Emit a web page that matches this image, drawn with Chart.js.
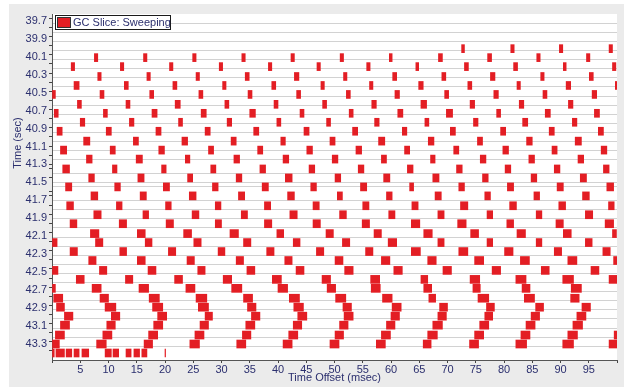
<!DOCTYPE html>
<html>
<head>
<meta charset="utf-8">
<script src="https://cdn.jsdelivr.net/npm/chart.js@4.4.1/dist/chart.umd.min.js"></script>
<style>
  html, body { margin: 0; padding: 0; background: #fff; }
</style>
</head>
<body>
<canvas id="gcChart" width="624" height="388"></canvas>
<script>
// one strip per row, row start time in sec
const rowTimes = [39.70, 39.80, 39.91, 40.01, 40.11, 40.21, 40.32, 40.42, 40.52, 40.63,
  40.73, 40.83, 40.93, 41.04, 41.14, 41.24, 41.35, 41.45, 41.55, 41.65,
  41.76, 41.86, 41.96, 42.07, 42.17, 42.27, 42.37, 42.48, 42.58, 42.68,
  42.79, 42.89, 42.99, 43.09, 43.20, 43.30, 43.40];

// sweeping slices per row: [start, end] offset in msec
const sweepSlices = [
  [],
  [],
  [],
  [[72.5,73.0],[81.2,81.8],[89.8,90.4],[98.6,99.2]],
  [[7.5,8.1],[16.2,16.8],[24.9,25.5],[33.6,34.2],[42.3,42.9],[51.0,51.6],[59.7,60.2],[68.4,69.1],[77.1,77.8],[85.8,86.4],[94.6,95.2]],
  [[3.4,4.0],[12.1,12.7],[20.8,21.4],[29.6,30.2],[38.3,38.9],[46.9,47.5],[55.7,56.3],[64.4,64.9],[73.0,73.7],[81.7,82.4],[90.5,91.0],[99.2,99.8]],
  [[8.1,8.7],[16.8,17.4],[25.5,26.1],[34.2,34.9],[42.9,43.7],[51.6,52.2],[60.3,61.0],[69.0,69.7],[77.6,78.4],[86.5,87.1],[95.1,95.8]],
  [[3.9,4.8],[12.8,13.5],[21.4,22.1],[30.2,30.8],[38.9,39.6],[47.6,48.2],[56.2,56.8],[64.9,65.7],[73.6,74.3],[82.3,82.9],[91.0,91.8],[99.7,100]],
  [[0,0.6],[8.5,9.2],[17.3,18.0],[26.0,26.7],[34.7,35.4],[43.3,44.0],[52.1,52.8],[60.7,61.5],[69.5,70.2],[78.2,79.0],[86.9,87.6],[95.6,96.4]],
  [[4.5,5.2],[13.1,13.8],[21.8,22.7],[30.6,31.3],[39.3,40.0],[47.9,48.6],[56.6,57.4],[65.3,66.3],[74.0,74.8],[82.7,83.5],[91.4,92.2]],
  [[0.4,1.1],[9.1,9.8],[17.7,18.6],[26.4,27.3],[35.0,36.0],[43.9,44.6],[52.6,53.3],[61.2,62.1],[69.8,70.9],[78.7,79.4],[87.3,88.2],[96.0,96.9]],
  [[5.0,5.8],[13.7,14.5],[22.4,23.1],[31.0,31.8],[39.8,40.5],[48.6,49.3],[57.1,57.9],[66.0,66.7],[74.6,75.4],[83.3,84.2],[92.1,92.9]],
  [[0.9,1.8],[9.6,10.5],[18.4,19.3],[27.1,28.0],[35.7,36.6],[44.6,45.5],[53.2,54.1],[62.0,62.8],[70.5,71.4],[79.4,80.3],[88.0,88.9],[96.7,97.6]],
  [[5.6,6.7],[14.4,15.3],[23.0,24.0],[31.7,32.6],[40.5,41.3],[49.2,50.1],[57.8,58.9],[66.6,67.6],[75.3,76.2],[84.0,85.0],[92.6,93.7]],
  [[1.5,2.6],[10.3,11.2],[18.9,19.9],[27.7,28.6],[36.4,37.3],[45.1,46.1],[53.8,54.8],[62.4,63.3],[71.1,72.0],[79.8,80.8],[88.5,89.4],[97.2,98.2]],
  [[6.1,7.1],[14.9,16.0],[23.6,24.4],[32.2,33.2],[40.9,41.9],[49.6,50.6],[58.3,59.2],[67.0,67.8],[75.8,76.8],[84.4,85.4],[93.1,94.1]],
  [[1.9,3.1],[10.7,11.5],[19.4,20.2],[28.1,29.0],[36.8,37.8],[45.5,46.5],[54.2,55.2],[62.9,63.9],[71.6,72.6],[80.2,81.2],[88.9,89.9],[97.6,98.6]],
  [[6.5,7.5],[15.2,16.3],[24.0,24.9],[32.6,33.6],[41.3,42.5],[50.1,51.1],[58.7,59.8],[67.4,68.5],[76.2,77.2],[84.8,85.8],[93.5,94.6]],
  [[2.4,3.5],[11.1,12.1],[19.7,20.8],[28.4,29.4],[37.2,38.3],[45.8,46.8],[54.6,55.7],[63.3,64.0],[72.0,73.0],[80.6,81.7],[89.4,90.5],[98.2,99.4]],
  [[6.9,8.1],[15.6,16.7],[24.3,25.5],[33.0,34.1],[41.7,42.9],[50.5,51.4],[59.2,60.2],[67.8,68.9],[76.6,77.6],[85.3,86.3],[93.9,95.1]],
  [[2.6,3.8],[11.4,12.4],[20.1,21.1],[28.9,29.9],[37.6,38.7],[46.2,47.3],[55.0,56.1],[63.7,64.8],[72.3,73.6],[81.0,82.2],[89.7,90.9],[98.5,99.5]],
  [[7.4,8.7],[16.1,17.1],[24.8,26.0],[33.5,34.6],[42.1,43.4],[50.9,52.1],[59.6,60.7],[68.3,69.4],[77.0,78.0],[85.7,86.7],[94.4,95.7]],
  [[3.2,4.4],[11.9,13.2],[20.2,21.5],[28.9,30.0],[37.6,38.9],[46.2,47.5],[54.9,56.2],[63.6,65.1],[71.8,73.3],[80.5,81.7],[89.2,90.5],[97.9,99.4]],
  [[6.8,8.3],[15.1,16.5],[23.3,24.7],[31.5,33.0],[39.8,41.0],[48.5,49.8],[57.0,58.3],[65.8,67.3],[74.1,75.5],[82.3,83.8],[90.5,91.9],[99.2,99.9]],
  [[0,0.9],[7.7,9.0],[16.5,17.7],[25.1,26.4],[33.9,35.2],[42.7,43.9],[51.4,52.7],[59.5,61.0],[68.3,69.4],[77.0,78.0],[85.7,86.7],[94.4,95.6]],
  [[3.2,4.5],[12.0,13.2],[20.6,21.9],[29.4,30.6],[38.0,39.3],[46.8,48.1],[55.5,56.8],[63.6,65.2],[72.0,73.6],[80.1,81.6],[88.9,90.2],[97.5,98.8]],
  [[6.5,7.8],[15.1,16.5],[23.9,25.2],[32.6,33.9],[41.2,42.5],[50.1,51.5],[58.3,59.8],[66.5,68.0],[74.8,76.4],[82.9,84.5],[91.3,92.9],[99.4,100]],
  [[0,1.05],[8.4,9.7],[17.0,18.4],[25.8,27.1],[34.5,35.9],[43.2,44.6],[51.8,53.3],[60.5,62.0],[69.2,70.7],[77.9,79.4],[86.6,88.0],[95.4,96.8]],
  [[4.3,5.7],[13.0,14.3],[21.7,23.1],[30.3,31.8],[39.0,40.6],[47.8,49.3],[56.4,58.0],[65.3,66.5],[74.0,75.7],[82.1,83.9],[90.4,92.3],[98.6,100]],
  [[0,0.6],[7.1,8.7],[15.4,17.1],[23.7,25.3],[31.8,33.6],[40.0,41.7],[48.7,50.2],[56.5,58.1],[65.8,67.2],[74.5,75.8],[83.2,84.6],[91.9,93.7]],
  [[0.3,1.9],[8.5,10.0],[17.2,19.0],[25.5,27.4],[33.9,35.5],[42.0,43.8],[50.2,52.0],[58.5,60.2],[66.7,67.9],[75.4,77.3],[83.6,85.4],[91.8,93.3]],
  [[0.8,2.2],[9.4,11.3],[17.8,19.6],[25.9,27.7],[34.6,36.1],[42.8,44.5],[51.5,53.0],[60.2,61.8],[68.6,70.0],[76.9,78.3],[85.6,87.0],[93.8,95.3]],
  [[2.2,3.7],[10.5,12.0],[18.7,20.3],[27.1,28.4],[35.3,36.8],[43.5,45.1],[51.7,53.3],[60.0,61.5],[68.3,69.8],[76.6,78.0],[84.8,86.3],[92.9,94.5]],
  [[1.5,3.1],[9.7,11.2],[18.0,19.6],[26.2,27.7],[34.3,35.9],[42.7,44.2],[50.9,52.4],[59.2,60.7],[67.4,69.1],[75.7,77.3],[83.9,85.5],[92.2,93.9]],
  [[0.6,2.2],[9.0,10.6],[17.1,18.7],[25.3,26.9],[33.7,35.2],[41.9,43.5],[50.1,51.6],[58.3,59.9],[66.5,68.2],[74.8,76.4],[83.0,84.6],[91.3,93.0],[99.5,100]],
  [[0,1.3],[7.9,9.6],[16.3,17.8],[24.4,26.1],[32.7,34.3],[40.9,42.5],[49.2,50.8],[57.4,59.0],[65.7,67.1],[73.9,75.5],[82.1,84.0],[90.4,92.3],[98.6,100]],
  [[0,0.4],[0.7,2.2],[2.5,3.5],[3.9,4.8],[5.3,6.5],[9.4,10.5],[10.8,11.8],[13.1,14.0],[14.5,15.5],[15.9,16.8],[20.0,20.1]]
];

const yTickLabels = [39.7, 39.9, 40.1, 40.3, 40.5, 40.7, 40.9, 41.1, 41.3, 41.5,
  41.7, 41.9, 42.1, 42.3, 42.5, 42.7, 42.9, 43.1, 43.3];
const yMinorTicks = [39.8, 40.0, 40.2, 40.4, 40.6, 40.8, 41.0, 41.2, 41.4, 41.6,
  41.8, 42.0, 42.2, 42.4, 42.6, 42.8, 43.0, 43.2, 43.4];
const xTickLabels = [5, 10, 15, 20, 25, 30, 35, 40, 45, 50, 55, 60, 65, 70, 75, 80, 85, 90, 95];

const textColor = '#2b2f6e';
const sliceColor = '#e31e24';

// row separators sit half way between strips
const rowLines = [];
for (let i = 1; i < rowTimes.length; i++) {
  rowLines.push((rowTimes[i - 1] + rowTimes[i]) / 2);
}

const points = [];
sweepSlices.forEach((row, i) => {
  row.forEach(s => points.push({ y: rowTimes[i], x: [s[0], s[1]] }));
});

// grey panel behind the plot, white plot area
const panelBg = {
  id: 'panelBg',
  beforeDraw(chart) {
    const { ctx, chartArea: a } = chart;
    ctx.save();
    ctx.fillStyle = '#ffffff';
    ctx.fillRect(0, 0, chart.width, chart.height);
    ctx.fillStyle = '#ebebeb';
    ctx.fillRect(9, 4, chart.width - 9, 383);
    ctx.fillStyle = '#ffffff';
    ctx.fillRect(a.left, a.top, a.right - a.left, a.bottom - a.top);
    ctx.restore();
  }
};

// boxed legend in the top-left corner, plus the y title
const boxLegend = {
  id: 'boxLegend',
  afterDraw(chart) {
    const { ctx } = chart;
    const label = chart.data.datasets[0].label;
    ctx.save();
    ctx.fillStyle = '#ffffff';
    ctx.fillRect(55, 15, 116, 15);
    ctx.strokeStyle = '#1a1a1a';
    ctx.lineWidth = 1;
    ctx.strokeRect(55.5, 15.5, 115, 14);
    ctx.fillStyle = sliceColor;
    ctx.fillRect(57, 17, 14, 11);
    ctx.strokeStyle = '#333333';
    ctx.strokeRect(57.5, 17.5, 13, 10);
    ctx.fillStyle = textColor;
    ctx.font = '11px "Liberation Sans", Arial, sans-serif';
    ctx.textBaseline = 'middle';
    ctx.textAlign = 'left';
    ctx.fillText(label, 73, 23);

    ctx.translate(18, 143);
    ctx.rotate(-Math.PI / 2);
    ctx.textAlign = 'center';
    ctx.fillText('Time (sec)', 0, 0);
    ctx.restore();
  }
};

new Chart(document.getElementById('gcChart'), {
  type: 'bar',
  data: {
    datasets: [{
      label: 'GC Slice: Sweeping',
      data: points,
      backgroundColor: sliceColor,
      borderWidth: 0,
      barThickness: 8
    }]
  },
  options: {
    indexAxis: 'y',
    responsive: false,
    animation: false,
    layout: { padding: { left: 0, top: 14, right: 7, bottom: 0 } },
    font: { family: '"Liberation Sans", Arial, sans-serif', size: 11 },
    scales: {
      x: {
        type: 'linear',
        min: 0,
        max: 100,
        afterFit: s => { s.height = 28; },
        ticks: {
          stepSize: 5,
          autoSkip: false,
          maxRotation: 0,
          padding: 0,
          color: textColor,
          font: { size: 11 },
          callback: v => xTickLabels.includes(v) ? String(v) : ''
        },
        grid: { drawOnChartArea: false, tickLength: 3, tickColor: '#444444' },
        border: { color: '#555555' },
        title: {
          display: true,
          text: 'Time Offset (msec)',
          color: textColor,
          font: { size: 11 },
          padding: { top: 0, bottom: 3 }
        }
      },
      y: {
        type: 'linear',
        reverse: true,
        min: 39.65,
        max: 43.452,
        afterFit: s => { s.width = 52; },
        afterBuildTicks: s => {
          const ticks = [];
          yTickLabels.forEach(v => ticks.push({ value: v, kind: 'label' }));
          yMinorTicks.forEach(v => ticks.push({ value: v, kind: 'minor' }));
          rowLines.forEach(v => ticks.push({ value: v, kind: 'grid' }));
          ticks.sort((a, b) => a.value - b.value);
          s.ticks = ticks;
        },
        ticks: {
          autoSkip: false,
          padding: 2,
          color: textColor,
          font: { size: 11 },
          callback: (v, i, ticks) => ticks[i].kind === 'label' ? v.toFixed(1) : ''
        },
        grid: {
          tickLength: 3,
          color: c => (c.tick && c.tick.kind === 'grid') ? '#d2d2d2' : 'rgba(0,0,0,0)',
          tickColor: c => (c.tick && c.tick.kind !== 'grid') ? '#444444' : 'rgba(0,0,0,0)'
        },
        border: { color: '#555555' }
      }
    },
    plugins: {
      legend: { display: false },
      tooltip: { enabled: false }
    }
  },
  plugins: [panelBg, boxLegend]
});
</script>
</body>
</html>
